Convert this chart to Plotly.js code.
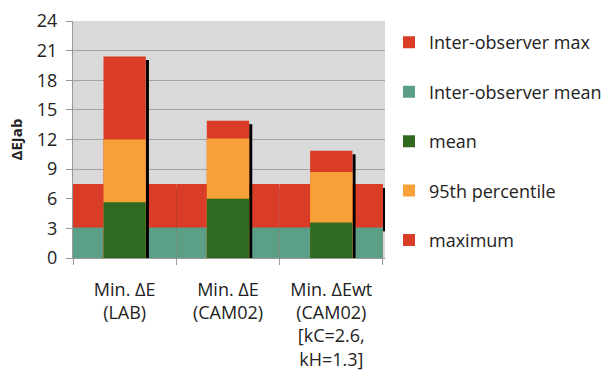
<!DOCTYPE html>
<html>
<head>
<meta charset="utf-8">
<script src="https://cdn.plot.ly/plotly-3.0.1.min.js"></script>
<style>html,body{margin:0;padding:0;background:#fff;}#chart{width:616px;height:377px;}</style>
</head>
<body>
<div id="chart"></div>
<script>
// Data
var categories = ["Min. ΔE<br>(LAB)", "Min. ΔE<br>(CAM02)", "Min. ΔEwt<br>(CAM02)<br>[kC=2.6,<br>kH=1.3]"];
var interObserverMean = [3.1, 3.1, 3.1];
var interObserverMax = [7.5, 7.5, 7.5];
var meanValues = [5.65, 6.0, 3.6];
var p95Values = [12.0, 12.1, 8.7];
var maxValues = [20.4, 13.9, 10.85];

var RED = "#da3d27", TEAL = "#5b9f86", GREEN = "#2f6a20", ORANGE = "#f9a139";
var FONT = "'Open Sans', Lato, sans-serif";
var shadowDrop = 0.35;

var traces = [];
// shadow behind inter-observer bars (only visible at far right)
traces.push({type:"bar", x:categories, y:interObserverMax.map(function(v,i){return v - interObserverMean[i];}),
  base: interObserverMean.map(function(v){return v - shadowDrop - 0.05;}),
  width:0.03, offset:0.5, marker:{color:"#000"}, showlegend:false, hoverinfo:"skip"});
traces.push({type:"bar", name:"Inter-observer max", x:categories, y:interObserverMax, width:1.0,
  marker:{color:RED}, legendgroup:"a", legendrank:1});
traces.push({type:"bar", name:"Inter-observer mean", x:categories, y:interObserverMean, width:1.0,
  marker:{color:TEAL}, legendgroup:"b", legendrank:2});
// shadows of the main bars
traces.push({type:"bar", x:categories, y:maxValues.map(function(v){return v - shadowDrop;}),
  width:0.03, offset:0.205, marker:{color:"#000"}, showlegend:false, hoverinfo:"skip"});
traces.push({type:"bar", name:"maximum", x:categories, y:maxValues, width:0.41,
  marker:{color:RED}, legendgroup:"e", legendrank:5});
traces.push({type:"bar", name:"95th percentile", x:categories, y:p95Values, width:0.41,
  marker:{color:ORANGE}, legendgroup:"d", legendrank:4});
traces.push({type:"bar", name:"mean", x:categories, y:meanValues, width:0.41,
  marker:{color:GREEN}, legendgroup:"c", legendrank:3});

var layout = {
  width:616, height:377,
  margin:{l:73, r:231, t:21, b:119},
  paper_bgcolor:"#ffffff", plot_bgcolor:"#d9d9d9",
  barmode:"overlay",
  font:{family:FONT, size:18, color:"#222"},
  xaxis:{type:"category", range:[-0.5, 2.52], tickson:"boundaries", ticks:"outside", ticklen:6,
    tickcolor:"#9a9a9a", showline:true, linecolor:"#9a9a9a", showgrid:false,
    tickfont:{family:FONT, size:18, color:"#222"}, ticklabelstandoff:15, fixedrange:true},
  yaxis:{range:[0,24], dtick:3, tick0:0, ticks:"outside", ticklen:6, tickcolor:"#9a9a9a",
    showline:true, linecolor:"#9a9a9a", gridcolor:"#a3a3a3", gridwidth:1, zeroline:false,
    tickfont:{family:FONT, size:18, color:"#222"}, ticklabelstandoff:5,
    title:{text:"<b>ΔEJab</b>", font:{family:FONT, size:15, color:"#222"}, standoff:10}},
  legend:{xref:"container", yref:"container", x:0.6315, y:0.936, xanchor:"left", yanchor:"top",
    traceorder:"grouped", tracegroupgap:23, maxheight:360, font:{family:FONT, size:18, color:"#222"},
    bgcolor:"rgba(0,0,0,0)"},
  showlegend:true
};

Plotly.newPlot("chart", traces, layout, {displayModeBar:false, staticPlot:true});
</script>
</body>
</html>
